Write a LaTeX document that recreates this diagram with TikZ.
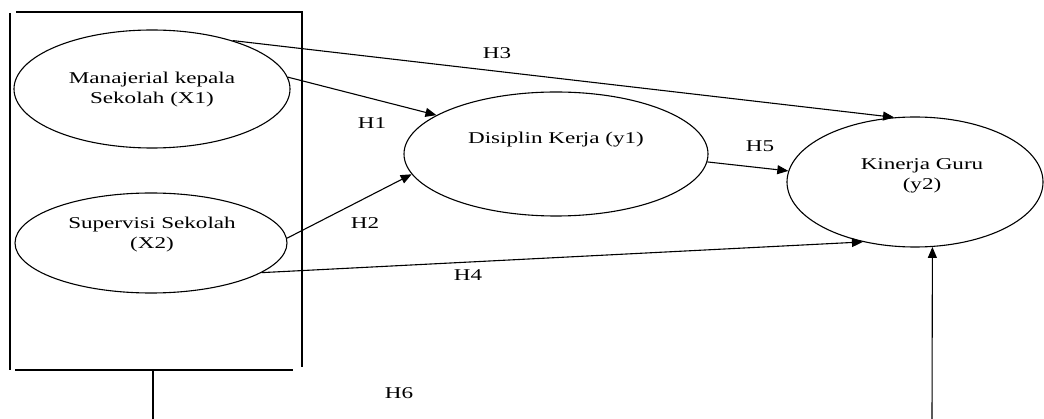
\documentclass[tikz,border=0pt]{standalone}
\usepackage{fontspec}
\setmainfont[FakeStretch=1.4]{Liberation Serif}
\usetikzlibrary{arrows.meta,shapes.geometric}
\begin{document}
\begin{tikzpicture}[x=1pt,y=-1pt,
  every node/.style={font=\fontsize{16.5}{20}\selectfont},
  var/.style={draw,ellipse,line width=1.1pt,inner sep=0pt},
  txt/.style={align=center,inner sep=0pt},
  lab/.style={inner sep=0pt},
  con/.style={line width=1.1pt,-{Triangle[length=11pt,width=9pt]}},
  plain/.style={line width=1.1pt}]
\useasboundingbox (0,0) rectangle (1044,419);
% box
\draw[plain] (10,13) -- (10,370);
\draw[plain] (16,12) -- (303,12);
\draw[plain] (302,12) -- (302,367);
\draw[plain] (15,370) -- (293,370);
% ellipses
\node[var,minimum width=276pt,minimum height=118pt] (x1) at (152,89) {};
\node[var,minimum width=272pt,minimum height=100pt] (x2) at (151,243) {};
\node[var,minimum width=304pt,minimum height=124pt] (y1) at (556,154) {};
\node[var,minimum width=256pt,minimum height=130pt] (y2) at (915,182) {};
% texts
\node[txt] (tx1) at (152,90) {Manajerial kepala\\Sekolah (X1)};
\node[txt] (tx2) at (152,235) {Supervisi Sekolah\\(X2)};
\node[txt] (ty1) at (556,140) {Disiplin Kerja (y1)};
\node[txt] (ty2) at (922,176) {Kinerja Guru\\(y2)};
% connectors
\draw[con] (x1.31) -- (y2.108.7);
\draw[con] (x1.5) -- (y1.162);
\draw[con] (x2.2) -- (y1.188);
\draw[con] (x2.-15.4) -- (y2.229.8);
\draw[con] (y1.-3.4) -- (y2.175.5);
\coordinate (boxbot) at (153,370);
\coordinate (leftend) at (153,419);
\coordinate (rightend) at (932,419);
\draw[plain] (boxbot) -- (leftend);
\draw[con] (rightend) -- (y2.-75.3);
% labels
\node[lab] (h3) at (497,53) {H3};
\node[lab] (h1) at (372,123) {H1};
\node[lab] (h2) at (365,223) {H2};
\node[lab] (h4) at (468,275) {H4};
\node[lab] (h5) at (760,146) {H5};
\node[lab] (h6) at (399,393) {H6};
\end{tikzpicture}
\end{document}
